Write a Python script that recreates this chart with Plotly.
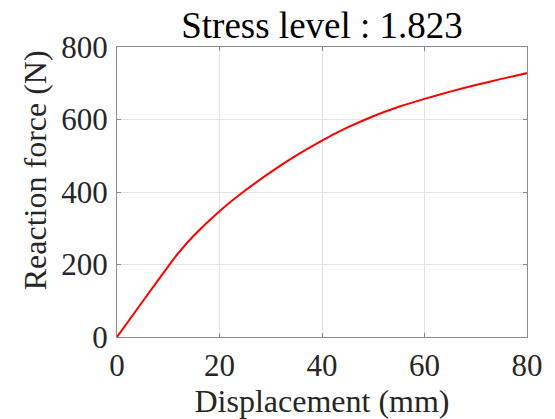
import plotly.graph_objects as go

# Force-displacement response
displacement_mm = [0, 5, 10, 12, 15, 20, 25, 30, 35, 40, 45, 50, 55, 60, 65, 70, 75, 80]
reaction_force_n = [0, 98, 195, 232, 280, 347, 404, 455, 501, 542, 578, 609, 635, 657, 677, 695, 712, 728]

x_ticks = [0, 20, 40, 60, 80]
y_ticks = [0, 200, 400, 600, 800]

serif = "Liberation Serif, Times New Roman, serif"
ink = "#262626"

fig = go.Figure()
fig.add_trace(go.Scatter(
    x=displacement_mm, y=reaction_force_n, mode="lines",
    line=dict(color="#ff0000", width=2, shape="spline", smoothing=0.5),
    hoverinfo="skip", showlegend=False,
))

axis_common = dict(
    showline=True, mirror="ticks", linecolor="#8c8c8c", linewidth=1,
    showgrid=True, gridcolor="#e3e3e3", gridwidth=1,
    ticks="inside", ticklen=4, tickcolor="#8c8c8c",
    zeroline=False, automargin=False,
    tickfont=dict(family=serif, size=31, color=ink),
)

fig.update_xaxes(
    range=[0, 80], tickvals=x_ticks, ticklabelstandoff=1,
    title=dict(text="Displacement (mm)", font=dict(family=serif, size=32, color=ink), standoff=7),
    **axis_common,
)
fig.update_yaxes(
    range=[0, 800], tickvals=y_ticks, ticklabelstandoff=2,
    **axis_common,
)

# y-axis title placed as a rotated annotation
fig.add_annotation(
    text="Reaction force (N)", textangle=-90,
    xref="paper", yref="paper", x=-0.2, y=0.575,
    xanchor="center", yanchor="middle", showarrow=False,
    font=dict(family=serif, size=32, color=ink),
)

fig.update_layout(
    width=555, height=419,
    margin=dict(l=117, r=28, t=47, b=82),
    paper_bgcolor="white", plot_bgcolor="white",
    title=dict(text="Stress level : 1.823", x=0.5, xref="paper",
               y=1 - 25 / 419, yref="container", yanchor="middle",
               font=dict(family=serif, size=37, color="#000000")),
)

fig.write_html("out.html")
